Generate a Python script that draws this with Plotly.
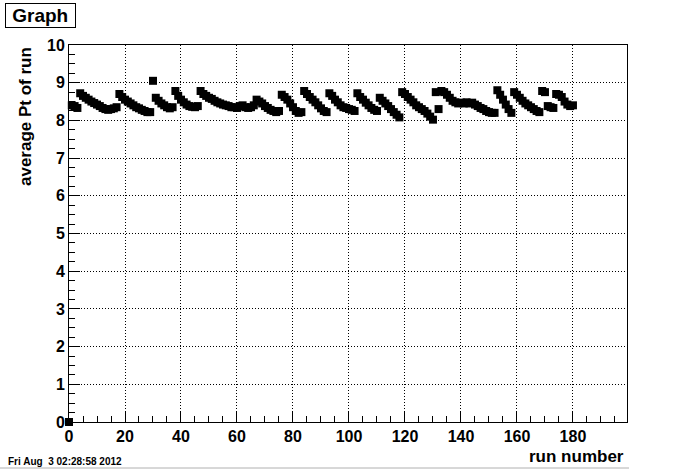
import plotly.graph_objects as go

# run numbers 0..180
runs = list(range(0, 181))
avg_pt = [
    0.00,
    8.40, 8.38, 8.33,
    8.72, 8.65, 8.60, 8.55, 8.50, 8.46, 8.42, 8.38, 8.33, 8.30, 8.28, 8.30, 8.32, 8.35,
    8.70, 8.62, 8.55, 8.50, 8.45, 8.40, 8.35, 8.32, 8.28, 8.25, 8.22, 8.22,
    9.05,
    8.60, 8.52, 8.45, 8.40, 8.35, 8.32, 8.35,
    8.78, 8.65, 8.55, 8.48, 8.42, 8.38, 8.36,
    8.35, 8.38,
    8.78, 8.70, 8.65, 8.60, 8.57, 8.52, 8.48, 8.45, 8.42, 8.40, 8.38, 8.35, 8.35, 8.33,
    8.38, 8.40, 8.35, 8.33, 8.35, 8.40,
    8.55, 8.50, 8.45, 8.38, 8.33, 8.28, 8.25, 8.22, 8.25,
    8.68, 8.62, 8.55, 8.45, 8.35, 8.25, 8.20, 8.22,
    8.78, 8.70, 8.62, 8.55, 8.48, 8.40, 8.32, 8.25, 8.22,
    8.72, 8.65, 8.55, 8.48, 8.40, 8.35, 8.33, 8.30, 8.28, 8.25,
    8.72, 8.62, 8.55, 8.47, 8.40, 8.33, 8.28, 8.25,
    8.60, 8.52, 8.45, 8.38, 8.30, 8.22, 8.15, 8.08,
    8.75, 8.70, 8.62, 8.55, 8.48, 8.40, 8.35, 8.30, 8.25, 8.18, 8.10, 8.02,
    8.75, 8.30, 8.78, 8.75, 8.68, 8.60, 8.52,
    8.48, 8.45, 8.47, 8.45, 8.48, 8.45, 8.47, 8.42, 8.38, 8.33, 8.30, 8.25, 8.22, 8.20, 8.20,
    8.80, 8.68, 8.55, 8.42, 8.30, 8.20,
    8.75, 8.68, 8.60, 8.52, 8.45, 8.40, 8.35, 8.30, 8.25, 8.22,
    8.78, 8.75,
    8.38, 8.35, 8.33,
    8.70, 8.68, 8.62, 8.50, 8.42, 8.38, 8.40,
]
runs = runs[:len(avg_pt)]

x_ticks = [0, 20, 40, 60, 80, 100, 120, 140, 160, 180]
y_ticks = [0, 1, 2, 3, 4, 5, 6, 7, 8, 9, 10]

W, H = 687, 471
L, R, T, B = 69, 60, 45, 49
PW, PH = W - L - R, H - T - B

fig = go.Figure()
fig.add_trace(go.Scatter(
    x=runs, y=avg_pt, mode="markers",
    marker=dict(symbol="square", size=8, color="black", line=dict(width=0)),
    cliponaxis=False, showlegend=False,
))

font = "Liberation Sans, Arial, Helvetica, sans-serif"
axis_common = dict(
    showline=True, linecolor="black", linewidth=1, mirror=True,
    ticks="inside", tickcolor="black", tickwidth=1,
    showgrid=True, gridcolor="black", griddash="1px,2px", gridwidth=1,
    zeroline=False, automargin=False,
    tickfont=dict(family=font, size=16, color="black", weight="bold"),
)

fig.update_layout(
    width=W, height=H,
    margin=dict(l=L, r=R, t=T, b=B),
    paper_bgcolor="white", plot_bgcolor="white",
    xaxis=dict(range=[0, 199.3], tickvals=x_ticks, ticklen=11,
               minor=dict(ticks="inside", ticklen=6, dtick=5, tick0=0,
                          tickcolor="black", showgrid=False),
               **axis_common),
    yaxis=dict(range=[0, 10], tickvals=y_ticks, ticklen=11,
               minor=dict(ticks="inside", ticklen=6, dtick=0.25, tick0=0,
                          tickcolor="black", showgrid=False),
               **axis_common),
)

fig.add_annotation(
    text="<b>&nbsp;Graph&nbsp;</b>", xref="paper", yref="paper",
    x=-(L - 5) / PW, y=1 + (T - 3) / PH,
    xanchor="left", yanchor="top", showarrow=False,
    font=dict(family=font, size=19, color="black"),
    bordercolor="black", borderwidth=1, borderpad=1, bgcolor="white",
)
fig.add_annotation(
    text="<b>run number</b>", xref="paper", yref="paper",
    x=1 + (626 - (W - R)) / PW, y=-(468 - 422) / PH,
    xanchor="right", yanchor="bottom", showarrow=False,
    font=dict(family=font, size=17, color="black"),
)
fig.add_annotation(
    text="<b>average Pt of run</b>", xref="paper", yref="paper",
    x=-(L - 14) / PW, y=1,
    xanchor="left", yanchor="top", textangle=-90, showarrow=False,
    font=dict(family=font, size=17, color="black"),
)
fig.add_annotation(
    text="<b>Fri Aug&nbsp;&nbsp;3 02:28:58 2012</b>",
    xref="paper", yref="paper",
    x=-(L - 6) / PW, y=-(454 - 422) / PH,
    xanchor="left", yanchor="top", showarrow=False,
    font=dict(family=font, size=10, color="black"),
)
fig.add_shape(type="line", xref="paper", yref="paper",
              x0=-L / PW, x1=1 + 2 / PW,
              y0=-(468 - 422) / PH, y1=-(468 - 422) / PH,
              line=dict(color="#b0b0b0", width=1))

fig.write_html("out.html", config={"displayModeBar": False},
               post_script="document.body.style.margin='0';")
